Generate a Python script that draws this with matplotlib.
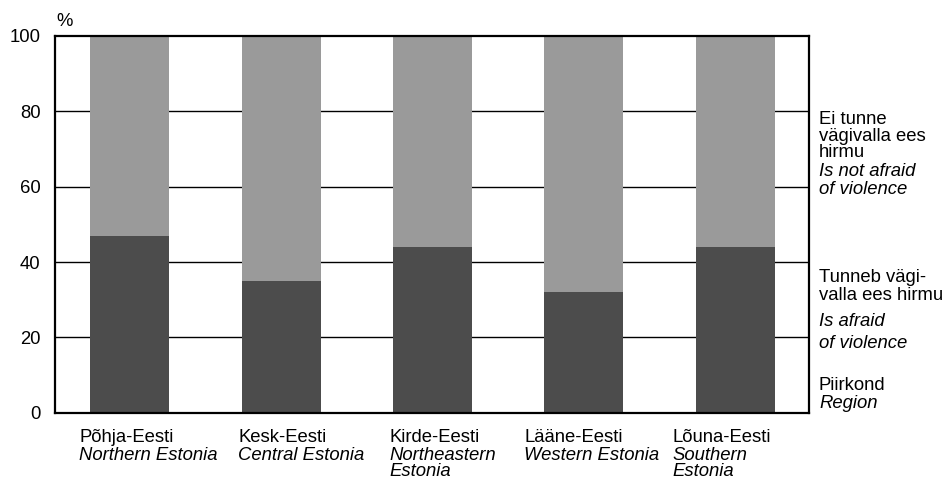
import matplotlib
matplotlib.use("Agg")
import matplotlib.pyplot as plt
import matplotlib.transforms as mtrans

plt.rcParams['font.family'] = ['Liberation Sans', 'DejaVu Sans']

regions_et = ["Põhja-Eesti", "Kesk-Eesti", "Kirde-Eesti", "Lääne-Eesti", "Lõuna-Eesti"]
regions_en = ["Northern Estonia", "Central Estonia", "Northeastern\nEstonia", "Western Estonia", "Southern\nEstonia"]
afraid = [47, 35, 44, 32, 44]
not_afraid = [53, 65, 56, 68, 56]
yticks = [0, 20, 40, 60, 80, 100]

dark = "#4c4c4c"
light = "#9a9a9a"
fs = 13.3

fig = plt.figure(figsize=(9.44, 4.78), dpi=100)
ax = fig.add_axes([55/944, 1 - 412.7/478, (809 - 55)/944, (412.7 - 36)/478])

x = list(range(len(regions_et)))
ax.bar(x, afraid, width=0.523, color=dark, zorder=3)
ax.bar(x, not_afraid, bottom=afraid, width=0.523, color=light, zorder=3)

ax.set_xlim(-0.494, 4.487)
ax.set_ylim(0, 100)
ax.set_yticks(yticks)
ax.set_yticklabels([str(t) for t in yticks], fontsize=fs)
ax.tick_params(axis='y', length=0, pad=10.5)
ax.set_xticks([])
for t in yticks[1:-1]:
    ax.axhline(t, color='black', lw=1.0, zorder=1)
for s in ax.spines.values():
    s.set_linewidth(1.6)
    s.set_zorder(4)

# category labels
blend = mtrans.blended_transform_factory(ax.transData, fig.transFigure)
offsets = [-0.335, -0.284, -0.282, -0.395, -0.414]
baselines = [442.3, 459.5, 475.5]
for i, (et, en) in enumerate(zip(regions_et, regions_en)):
    xl = i + offsets[i]
    fig.text(xl, 1 - baselines[0]/478, et, ha='left', va='baseline', fontsize=fs, transform=blend)
    for j, line in enumerate(en.split("\n")):
        fig.text(xl, 1 - baselines[j + 1]/478, line, ha='left', va='baseline', fontsize=fs,
                 style='italic', transform=blend)

fig.text(65/944, 1 - 21/478, "%", ha='center', va='center', fontsize=fs)

lx = 819/944
def t(y, s, italic=False):
    fig.text(lx, 1 - y/478, s, ha='left', va='center', fontsize=fs,
             style='italic' if italic else 'normal')

t(119, "Ei tunne")
t(136, "vägivalla ees")
t(153, "hirmu")
t(171, "Is not afraid", True)
t(189, "of violence", True)
t(278, "Tunneb vägi-")
t(296, "valla ees hirmu")
t(321, "Is afraid", True)
t(344, "of violence", True)
t(386, "Piirkond")
t(404, "Region", True)

fig.savefig("out.png", dpi=100)
